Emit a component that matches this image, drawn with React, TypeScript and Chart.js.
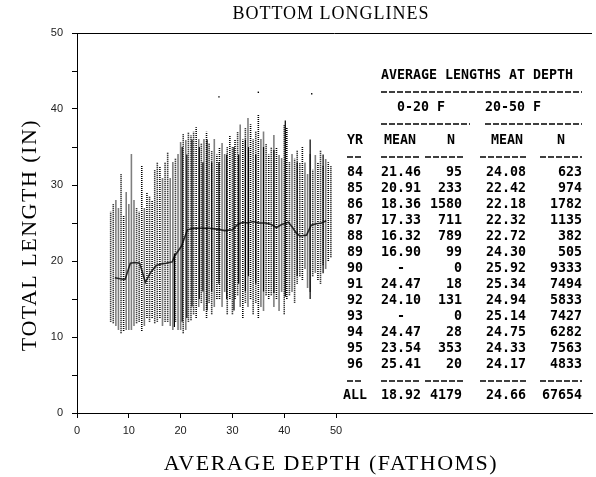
import React, { useEffect, useRef } from 'react';
import { Chart, registerables } from 'chart.js';

Chart.register(...registerables);

// Vertical strips of individual length measurements at each sampled depth (fathoms)
const stripDepth = [
  6.5, 7, 7.5, 8, 8.5, 9, 9.5, 10, 10.5, 11, 11.5, 12, 12.5, 13, 13.5, 14, 14.5, 15, 15.5, 16,
  16.5, 17, 17.5, 18, 18.5, 19, 19.5, 20, 20.5, 21, 21.5, 22, 22.5, 23, 23.5, 24, 24.5, 25, 25.5, 26,
  26.5, 27, 27.5, 28, 28.5, 29, 29.5, 30, 30.5, 31, 31.5, 32, 32.5, 33, 33.5, 34, 34.5, 35, 35.5, 36,
  36.5, 37, 37.5, 38, 38.5, 39, 39.5, 40, 40.5, 41, 41.5, 42, 42.5, 43, 43.5, 44, 44.5, 45, 45.5, 46,
  46.5, 47, 47.5, 48, 48.5, 49,
];
const stripLow = [
  12.0, 11.8, 11.5, 11.0, 10.5, 10.8, 11.0, 11.0, 11.0, 11.5, 11.8, 12.0, 10.8, 11.5, 12.5, 12.0, 12.5, 11.8, 12.0, 12.5,
  11.5, 12.0, 12.0, 11.5, 11.0, 12.0, 11.0, 11.0, 10.5, 11.0, 12.0, 12.2, 13.0, 12.5, 14.0, 14.5, 13.5, 12.5, 14.5, 13.0,
  14.0, 15.0, 15.0, 14.0, 16.0, 13.0, 15.0, 13.0, 15.0, 15.5, 14.0, 12.5, 14.5, 14.0, 15.0, 13.0, 14.5, 12.5, 14.0, 13.5,
  15.5, 15.0, 15.5, 14.0, 15.0, 13.5, 16.0, 13.0, 15.0, 15.5, 16.0, 14.5, 17.0, 18.0, 17.5, 19.0, 16.5, 16.0, 18.0, 18.5,
  17.5, 17.0, 19.5, 19.0, 20.0, 20.5,
];
const stripHigh = [
  26.5, 27.5, 28.0, 27.0, 31.5, 26.0, 29.0, 27.5, 34.0, 28.0, 27.0, 26.5, 32.5, 27.0, 29.0, 28.5, 28.0, 32.0, 33.0, 32.5,
  31.0, 33.0, 34.3, 31.0, 33.0, 33.5, 34.0, 35.7, 36.8, 36.0, 37.0, 36.5, 37.0, 37.6, 36.0, 35.5, 36.0, 37.0, 35.5, 34.5,
  36.0, 34.0, 35.0, 35.5, 34.0, 35.0, 36.5, 35.0, 36.0, 37.0, 38.0, 36.0, 37.5, 38.8, 38.0, 36.0, 37.0, 39.2, 36.0, 37.0,
  35.5, 34.0, 35.0, 36.5, 35.0, 34.0, 33.5, 38.0, 37.5, 33.0, 34.0, 33.5, 34.5, 33.0, 35.0, 33.0, 31.5, 34.0, 32.0, 34.0,
  33.0, 34.5, 32.5, 33.5, 33.0, 32.5,
];

// Depths where the measurements pile up into solid columns
const coreDepth = [
  18.8, 20.3, 21.2, 22.2, 23.6, 24.3, 25.1, 26.0, 27.4, 28.9, 30.3, 31.2, 32.5, 33.1, 34.5, 36.0, 38.0, 40.2, 42.5, 45.0,
  47.5,
];
const coreLow = [
  11.3, 12.0, 12.5, 14.0, 15.0, 16.0, 13.5, 16.0, 17.0, 15.0, 13.5, 17.0, 16.0, 18.0, 17.0, 16.0, 15.8, 15.3, 18.0, 15.0,
  18.4,
];
const coreHigh = [
  21.0, 35.0, 34.0, 36.0, 35.0, 33.0, 36.0, 33.0, 33.0, 34.0, 35.0, 34.0, 36.0, 35.0, 34.0, 35.0, 34.6, 38.5, 33.0, 36.0,
  34.0,
];

// Isolated large fish
const outlierDepth = [27.4, 35.0, 45.3];
const outlierLength = [41.6, 42.2, 42.0];

// Mean total length by depth
const meanDepth = [
  7.3, 8.8, 9.3, 10.3, 11.2, 12.1, 13.2, 14.2, 15.3, 16.2, 17.2, 18.4, 18.8, 20.2, 21.3, 22.5, 24.0, 25.5, 27.0, 28.5,
  30.0, 31.0, 32.0, 33.0, 34.0, 35.0, 36.4, 37.5, 38.5, 39.5, 40.8, 41.6, 42.3, 43.0, 44.3, 45.2, 46.2, 47.2, 48.1,
];
const meanLength = [
  17.8, 17.6, 17.6, 19.7, 19.8, 19.7, 17.2, 18.5, 19.4, 19.6, 19.7, 19.9, 20.6, 22.0, 24.1, 24.3, 24.3, 24.3, 24.2, 24.0,
  24.1, 24.8, 25.1, 25.0, 25.2, 25.0, 25.0, 24.8, 24.4, 24.8, 25.1, 24.4, 23.7, 23.3, 23.4, 24.7, 24.9, 25.0, 25.3,
];

const xTicks = [0, 10, 20, 30, 40, 50];
const yTicks = [0, 5, 10, 15, 20, 25, 30, 35, 40, 45, 50];

// Summary table
const years = ['84', '85', '86', '87', '88', '89', '90', '91', '92', '93', '94', '95', '96'];
const mean0to20 = [21.46, 20.91, 18.36, 17.33, 16.32, 16.9, null, 24.47, 24.1, null, 24.47, 23.54, 25.41];
const n0to20 = [95, 233, 1580, 711, 789, 99, 0, 18, 131, 0, 28, 353, 20];
const mean20to50 = [24.08, 22.42, 22.18, 22.32, 22.72, 24.3, 25.92, 25.34, 24.94, 25.14, 24.75, 24.33, 24.17];
const n20to50 = [623, 974, 1782, 1135, 382, 505, 9333, 7494, 5833, 7427, 6282, 7563, 4833];
const allMean0to20 = 18.92;
const allN0to20 = 4179;
const allMean20to50 = 24.66;
const allN20to50 = 67654;

const segments = (xs: number[], lo: number[], hi: number[]) => {
  const pts: { x: number; y: number | null }[] = [];
  xs.forEach((x, i) => {
    pts.push({ x, y: lo[i] }, { x, y: hi[i] }, { x, y: null });
  });
  return pts;
};

const TICK_FONT = { family: "'Liberation Sans Narrow', 'Liberation Sans', Arial, sans-serif", size: 11 };

const decorPlugin = {
  id: 'decor',
  afterDraw(chart: any) {
    const { ctx, chartArea } = chart;
    ctx.save();
    // top frame line
    ctx.strokeStyle = '#000';
    ctx.lineWidth = 1;
    ctx.beginPath();
    ctx.moveTo(chartArea.left, chartArea.top + 0.5);
    ctx.lineTo(chartArea.right, chartArea.top + 0.5);
    ctx.stroke();

    ctx.fillStyle = '#000';
    ctx.textBaseline = 'middle';
    ctx.textAlign = 'center';

    // chart title
    ctx.font = "18px 'Liberation Serif', serif";
    (ctx as any).letterSpacing = '1px';
    ctx.fillText('BOTTOM LONGLINES', 331, 14);

    // axis titles
    ctx.font = "22px 'Liberation Serif', serif";
    (ctx as any).letterSpacing = '1.5px';
    ctx.fillText('AVERAGE DEPTH (FATHOMS)', 331, 464);
    ctx.save();
    ctx.translate(30, 235);
    ctx.rotate(-Math.PI / 2);
    ctx.fillText('TOTAL LENGTH (IN)', 0, 0);
    ctx.restore();
    (ctx as any).letterSpacing = '0px';

    // summary table
    ctx.font = "bold 13.3px 'DejaVu Sans Mono', monospace";
    const put = (s: string, x: number, y: number, align: CanvasTextAlign = 'left') => {
      ctx.textAlign = align;
      ctx.fillText(s, x, y);
    };
    const rule = (x1: number, x2: number, y: number) => {
      ctx.save();
      ctx.lineWidth = 1.5;
      ctx.setLineDash([6, 2]);
      ctx.beginPath();
      ctx.moveTo(x1, y);
      ctx.lineTo(x2, y);
      ctx.stroke();
      ctx.restore();
    };
    put('AVERAGE LENGTHS AT DEPTH', 381, 76);
    rule(381, 582, 92);
    put('0-20 F', 397, 108);
    put('20-50 F', 485, 108);
    rule(381, 470, 124);
    rule(485, 582, 124);
    put('YR', 347, 141);
    put('MEAN', 384, 141);
    put('N', 447, 141);
    put('MEAN', 491, 141);
    put('N', 557, 141);
    const subRules = (y: number) => {
      rule(347, 362, y);
      rule(381, 420, y);
      rule(425, 465, y);
      rule(480, 528, y);
      rule(540, 582, y);
    };
    subRules(157);
    const rowY = (i: number) => 173 + i * 16;
    years.forEach((yr, i) => {
      const y = rowY(i);
      put(yr, 347, y);
      const m1 = mean0to20[i];
      if (m1 === null) put('-', 401, y, 'center');
      else put(m1.toFixed(2), 381, y);
      put(String(n0to20[i]), 462, y, 'right');
      put(mean20to50[i].toFixed(2), 486, y);
      put(String(n20to50[i]), 582, y, 'right');
    });
    const endY = rowY(years.length);
    subRules(endY);
    put('ALL', 343, endY + 15);
    put(allMean0to20.toFixed(2), 381, endY + 15);
    put(String(allN0to20), 462, endY + 15, 'right');
    put(allMean20to50.toFixed(2), 486, endY + 15);
    put(String(allN20to50), 582, endY + 15, 'right');
    ctx.restore();
  },
};

export default function App() {
  const canvasRef = useRef<HTMLCanvasElement | null>(null);

  useEffect(() => {
    if (!canvasRef.current) return;
    const chart = new Chart(canvasRef.current, {
      type: 'scatter',
      data: {
        datasets: [
          {
            type: 'line',
            data: segments(stripDepth, stripLow, stripHigh) as any,
            borderColor: '#000',
            borderWidth: 1.6,
            borderDash: [1, 1],
            pointRadius: 0,
            showLine: true,
            spanGaps: false,
          } as any,
          {
            type: 'line',
            data: segments(coreDepth, coreLow, coreHigh) as any,
            borderColor: '#000',
            borderWidth: 1.2,
            pointRadius: 0,
            showLine: true,
            spanGaps: false,
          } as any,
          {
            type: 'scatter',
            data: outlierDepth.map((x, i) => ({ x, y: outlierLength[i] })),
            backgroundColor: '#000',
            borderWidth: 0,
            pointRadius: 1,
            pointStyle: 'rect',
          } as any,
          {
            type: 'line',
            data: meanDepth.map((x, i) => ({ x, y: meanLength[i] })),
            borderColor: '#3a3a3a',
            borderWidth: 1.6,
            pointRadius: 0,
            showLine: true,
            tension: 0,
          } as any,
        ],
      },
      options: {
        animation: false,
        responsive: false,
        devicePixelRatio: 1,
        layout: { padding: { top: 33, left: 0, right: 0, bottom: 0 } },
        plugins: {
          legend: { display: false },
          tooltip: { enabled: false },
          title: { display: false },
        },
        scales: {
          x: {
            type: 'linear',
            min: 0,
            max: 99.4,
            afterBuildTicks: (s: any) => {
              s.ticks = xTicks.map((v) => ({ value: v }));
            },
            afterFit: (s: any) => {
              s.height = 64;
            },
            ticks: {
              font: TICK_FONT,
              color: '#222',
              padding: 6,
              maxRotation: 0,
              autoSkip: false,
              callback: (v: any) => String(v),
            },
            grid: { drawOnChartArea: false, drawTicks: true, tickLength: 5, color: '#000' },
            border: { display: true, color: '#000', width: 1 },
          },
          y: {
            type: 'linear',
            min: 0,
            max: 50,
            afterBuildTicks: (s: any) => {
              s.ticks = yTicks.map((v) => ({ value: v }));
            },
            afterFit: (s: any) => {
              s.width = 77;
            },
            ticks: {
              font: TICK_FONT,
              color: '#222',
              padding: 9,
              autoSkip: false,
              callback: (v: any) => (Number(v) % 10 === 0 ? String(v) : ''),
            },
            grid: { drawOnChartArea: false, drawTicks: true, tickLength: 5, color: '#000' },
            border: { display: true, color: '#000', width: 1 },
          },
        },
      } as any,
      plugins: [decorPlugin],
    });
    return () => chart.destroy();
  }, []);

  return (
    <div style={{ position: 'fixed', left: 0, top: 0, width: 596, height: 477, background: '#fff' }}>
      <canvas ref={canvasRef} width={596} height={477} style={{ display: 'block' }} />
    </div>
  );
}
